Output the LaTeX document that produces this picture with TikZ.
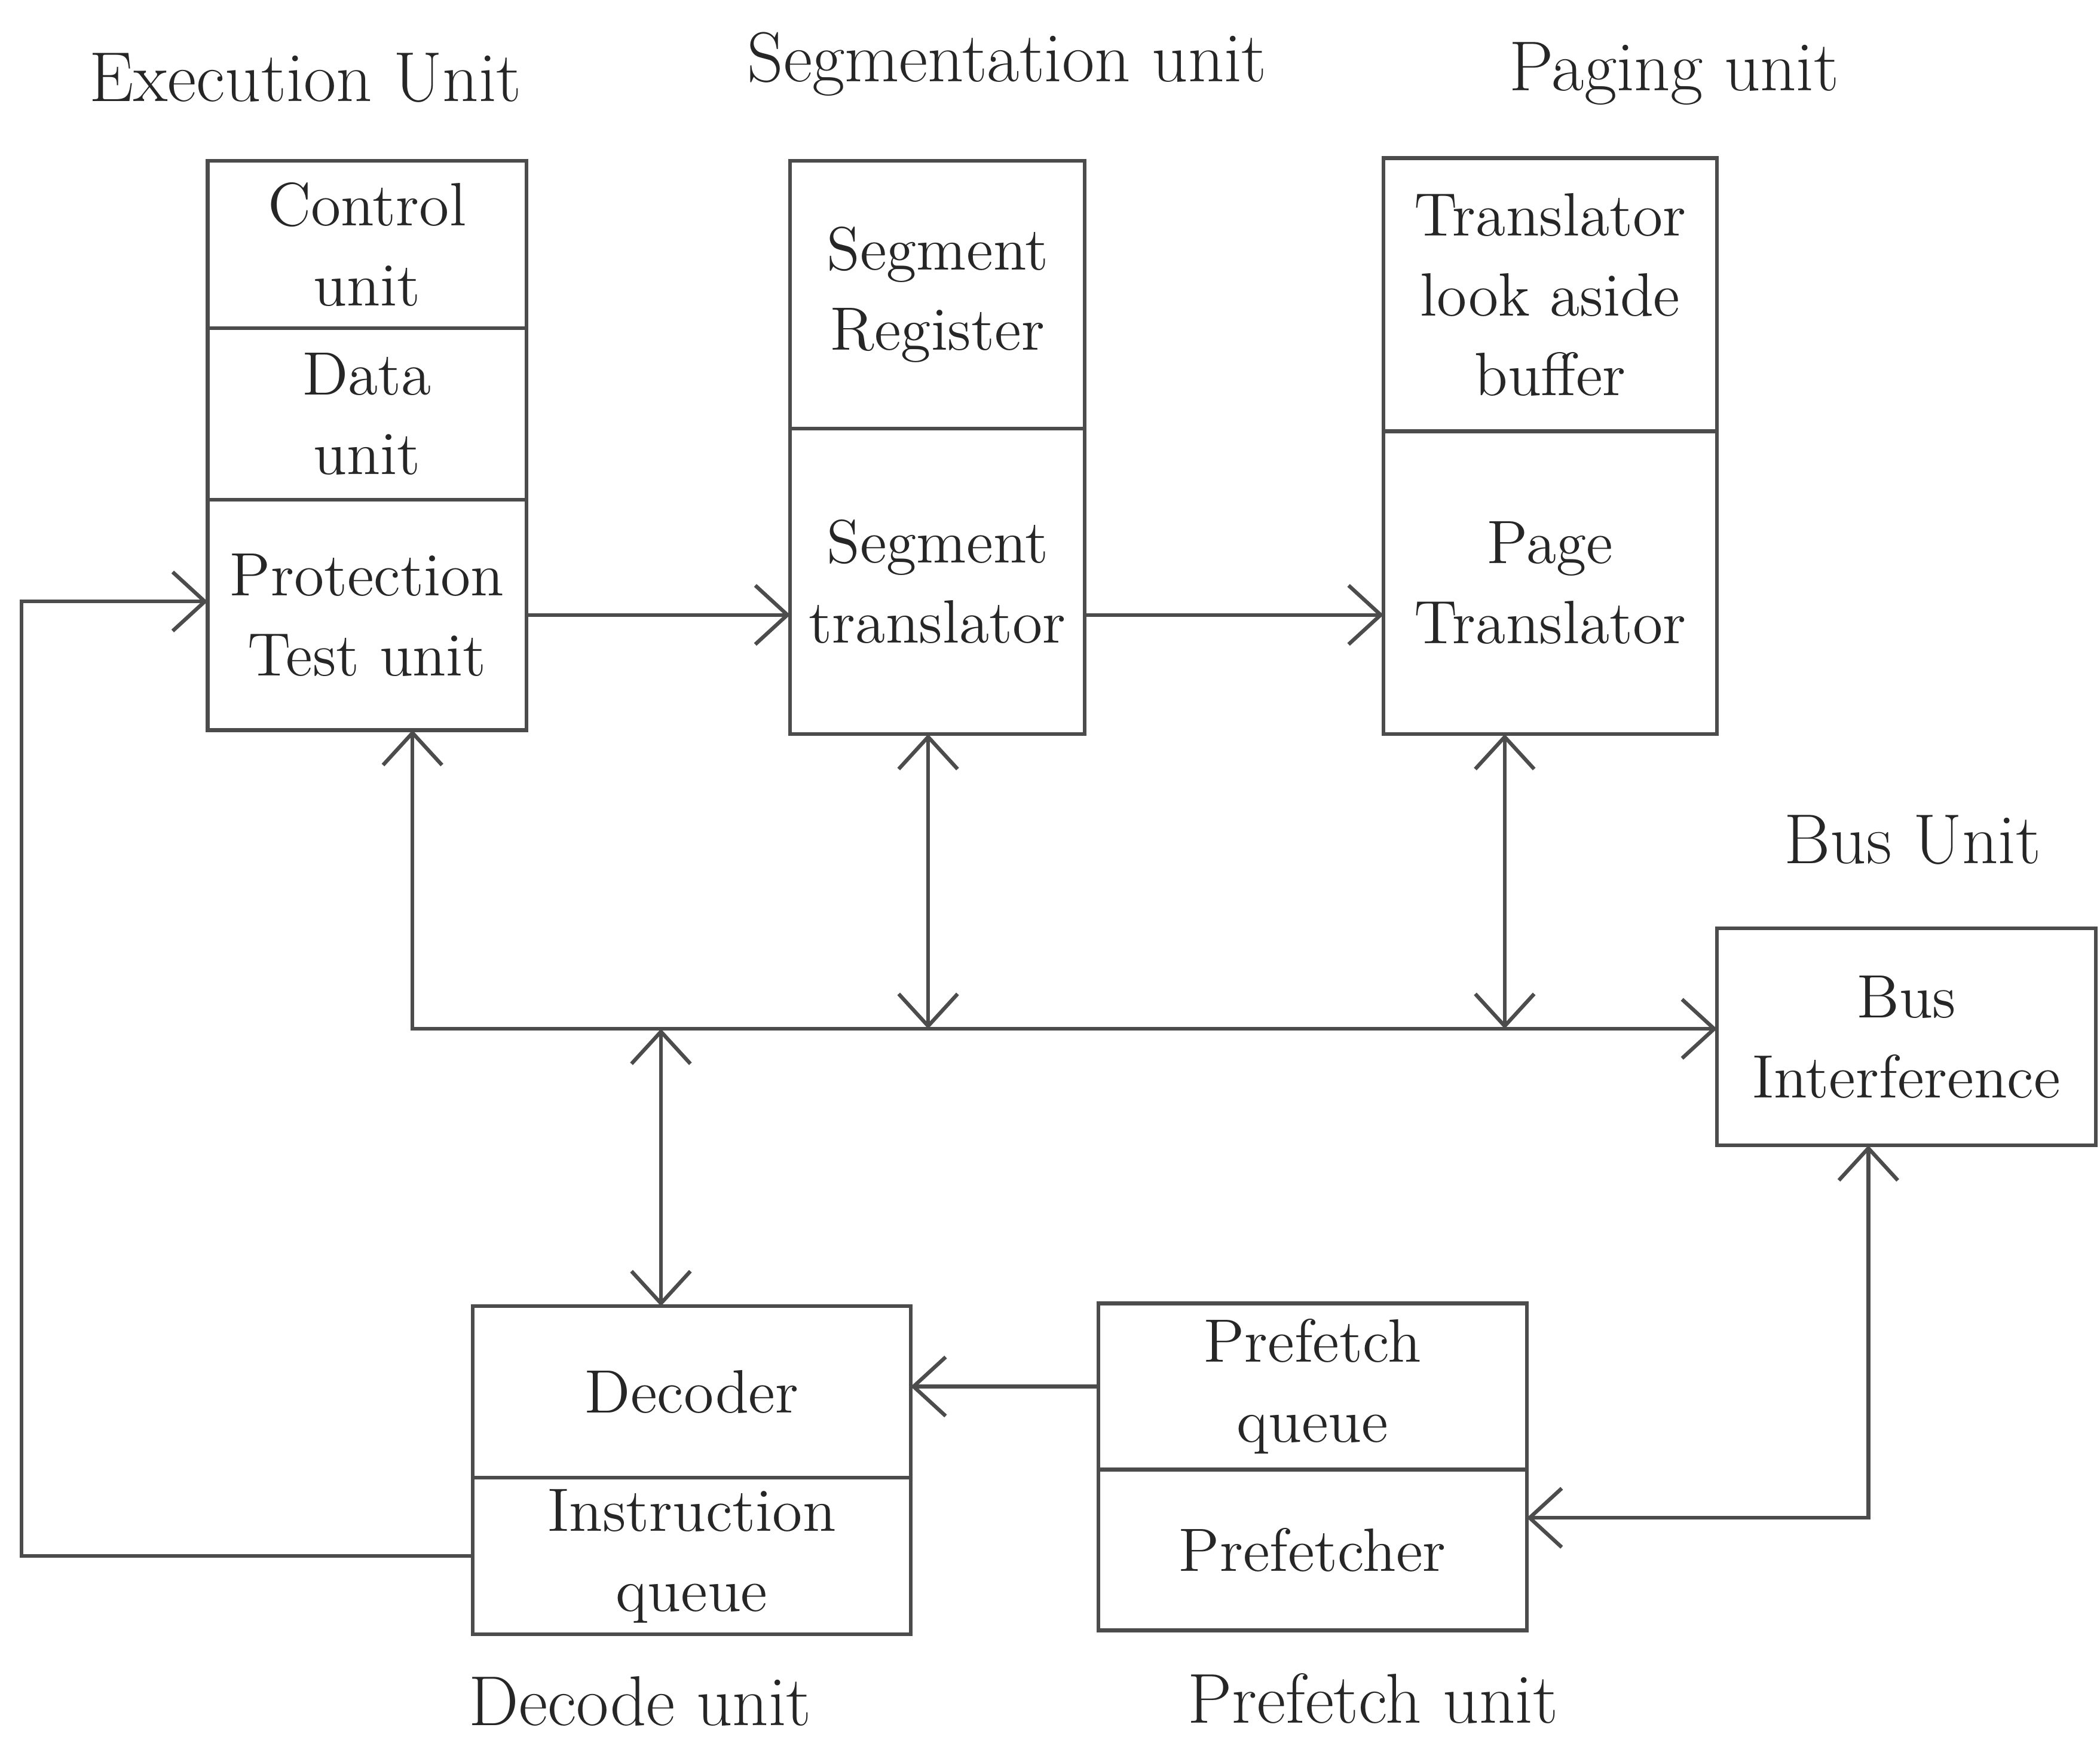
\documentclass[tikz,border=0pt]{standalone}
\usetikzlibrary{arrows.meta, positioning}

\begin{document}
\begin{tikzpicture}[>={Straight Barb[length=2.4mm, width=4.4mm]}, thick, draw=black!70, text=black!85]
  \tikzstyle{cell}=[rectangle, thick, draw=black!70, outer sep=0pt, align=center, inner sep=2pt, font=\fontsize{13}{17}\selectfont]
  \tikzstyle{title}=[font=\fontsize{15}{18}\selectfont]

  \useasboundingbox (0,0) rectangle (15.68,-13.10);

  % execution unit
  \node[cell, minimum width=2.38cm, minimum height=1.25cm, anchor=north west] (ctrl) at (1.55,-1.20) {Control\\unit};
  \node[cell, minimum width=2.38cm, minimum height=1.28cm, below=0pt of ctrl] (data) {Data\\unit};
  \node[cell, minimum width=2.38cm, minimum height=1.72cm, below=0pt of data] (prot) {Protection\\Test unit};

  % segmentation unit
  \node[cell, minimum width=2.20cm, minimum height=2.00cm, anchor=north west] (segreg) at (5.90,-1.20) {Segment\\Register};
  \node[cell, minimum width=2.20cm, minimum height=2.28cm, below=0pt of segreg] (segtr) {Segment\\translator};

  % paging unit
  \node[cell, minimum width=2.49cm, minimum height=2.04cm, anchor=north west] (tlb) at (10.33,-1.18) {Translator\\look aside\\buffer};
  \node[cell, minimum width=2.49cm, minimum height=2.26cm, below=0pt of tlb] (pagetr) {Page\\Translator};

  % bus unit
  \node[cell, minimum width=2.83cm, minimum height=1.62cm, anchor=north west] (bi) at (12.82,-6.93) {Bus\\Interference};

  % decode unit
  \node[cell, minimum width=3.27cm, minimum height=1.28cm, anchor=north west] (dec) at (3.53,-9.75) {Decoder};
  \node[cell, minimum width=3.27cm, minimum height=1.17cm, below=0pt of dec] (iq) {Instruction\\queue};

  % prefetch unit
  \node[cell, minimum width=3.20cm, minimum height=1.24cm, anchor=north west] (pq) at (8.20,-9.73) {Prefetch\\queue};
  \node[cell, minimum width=3.20cm, minimum height=1.20cm, below=0pt of pq] (pf) {Prefetcher};

  % titles
  \node[title] (exectitle) at (2.28,-0.58) {Execution Unit};
  \node[title] (segtitle) at (7.52,-0.48) {Segmentation unit};
  \node[title] (pagetitle) at (12.50,-0.55) {Paging unit};
  \node[title] (bustitle) at (14.28,-6.27) {Bus Unit};
  \node[title] (dectitle) at (4.78,-12.70) {Decode unit};
  \node[title] (pretitle) at (10.25,-12.68) {Prefetch unit};

  % internal bus
  \coordinate (busL) at (3.08,-7.68);
  \draw[<->] (prot.south -| busL) -- (busL) -- (busL -| bi.west);
  \draw[<->] ([xshift=-0.7mm]segtr.south) -- ([xshift=-0.7mm]segtr.south |- busL);
  \draw[<->] ([xshift=-3.4mm]pagetr.south) -- ([xshift=-3.4mm]pagetr.south |- busL);
  \draw[<->] ([xshift=-2.3mm]dec.north |- busL) -- ([xshift=-2.3mm]dec.north);

  \draw[->] (prot.east) -- (prot.east -| segtr.west);
  \draw[->] (prot.east -| segtr.east) -- (prot.east -| pagetr.west);
  \draw[->] (pq.west) -- (pq.west -| dec.east);
  \draw[->] (iq.west) -- ++(-3.37,0) |- ([yshift=1mm]prot.west);
  \draw[<->] ([xshift=-2.85mm]bi.south) |- ([yshift=2.4mm]pf.east);

\end{tikzpicture}
\end{document}
